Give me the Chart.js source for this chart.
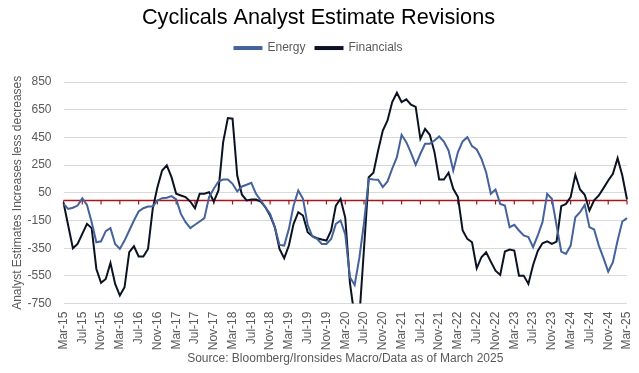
<!DOCTYPE html>
<html>
<head>
<meta charset="utf-8">
<script src="https://cdn.jsdelivr.net/npm/chart.js@4.4.1/dist/chart.umd.min.js"></script>
<style>
html,body{margin:0;padding:0;background:#fff;}
#wrap{width:639px;height:373px;position:relative;}
</style>
</head>
<body>
<div id="wrap"><canvas id="c"></canvas></div>
<script>
const categories = [
"Mar-15","Apr-15","May-15","Jun-15","Jul-15","Aug-15","Sep-15","Oct-15","Nov-15","Dec-15","Jan-16","Feb-16",
"Mar-16","Apr-16","May-16","Jun-16","Jul-16","Aug-16","Sep-16","Oct-16","Nov-16","Dec-16","Jan-17","Feb-17",
"Mar-17","Apr-17","May-17","Jun-17","Jul-17","Aug-17","Sep-17","Oct-17","Nov-17","Dec-17","Jan-18","Feb-18",
"Mar-18","Apr-18","May-18","Jun-18","Jul-18","Aug-18","Sep-18","Oct-18","Nov-18","Dec-18","Jan-19","Feb-19",
"Mar-19","Apr-19","May-19","Jun-19","Jul-19","Aug-19","Sep-19","Oct-19","Nov-19","Dec-19","Jan-20","Feb-20",
"Mar-20","Apr-20","May-20","Jun-20","Jul-20","Aug-20","Sep-20","Oct-20","Nov-20","Dec-20","Jan-21","Feb-21",
"Mar-21","Apr-21","May-21","Jun-21","Jul-21","Aug-21","Sep-21","Oct-21","Nov-21","Dec-21","Jan-22","Feb-22",
"Mar-22","Apr-22","May-22","Jun-22","Jul-22","Aug-22","Sep-22","Oct-22","Nov-22","Dec-22","Jan-23","Feb-23",
"Mar-23","Apr-23","May-23","Jun-23","Jul-23","Aug-23","Sep-23","Oct-23","Nov-23","Dec-23","Jan-24","Feb-24",
"Mar-24","Apr-24","May-24","Jun-24","Jul-24","Aug-24","Sep-24","Oct-24","Nov-24","Dec-24","Jan-25","Feb-25",
"Mar-25"];

const energy = [
-30,-66,-58,-42,10,-37,-162,-307,-300,-227,-205,-319,
-355,-295,-222,-150,-85,-61,-49,-49,-5,11,14,26,
2,-102,-162,-205,-181,-157,-133,19,79,132,146,146,
115,60,96,108,122,43,-5,-54,-102,-198,-326,-331,
-210,-42,67,7,-181,-266,-283,-319,-319,-283,-174,-150,
-250,-560,-615,-420,-165,151,146,144,91,132,224,308,
469,416,339,252,332,404,404,428,457,420,356,211,
344,421,452,387,363,296,199,43,74,-30,-42,-198,
-181,-222,-258,-270,-343,-258,-162,43,7,-186,-374,-391,
-331,-126,-90,-37,-198,-215,-331,-422,-519,-451,-295,-157,
-133];

const financials = [
-20,-186,-350,-319,-247,-174,-205,-500,-600,-572,-456,-608,
-692,-632,-379,-336,-410,-410,-355,-66,90,211,248,163,
43,31,19,-13,-61,43,43,55,-13,67,416,590,
585,175,36,-5,2,2,-13,-54,-114,-198,-355,-422,
-331,-174,-90,-114,-234,-263,-278,-287,-295,-222,-42,7,
-130,-600,-850,-850,-350,163,195,356,500,573,705,773,
705,725,686,670,440,512,469,344,146,146,195,79,
19,-222,-283,-307,-495,-415,-379,-447,-512,-543,-374,-360,
-367,-548,-548,-608,-471,-370,-314,-300,-319,-302,-46,-30,
19,180,74,36,-78,-5,31,84,139,187,300,175,
2];

const yTicks = [-750,-550,-350,-150,50,250,450,650,850];

const FONT = "'Liberation Sans', Arial, sans-serif";
const GREY = '#595959';

const zeroLine = {
  id: 'zeroLine',
  beforeDatasetsDraw(chart) {
    const {ctx, chartArea, scales} = chart;
    const yy = Math.round(scales.y.getPixelForValue(0)) + 0.5;
    ctx.save();
    ctx.strokeStyle = '#a8141b';
    ctx.lineWidth = 1.5;
    ctx.beginPath();
    ctx.moveTo(chartArea.left, yy);
    ctx.lineTo(chartArea.right, yy);
    ctx.stroke();
    ctx.lineWidth = 1.2;
    ctx.beginPath();
    for (let i = 0; i < categories.length; i += 4) {
      const px = scales.x.getPixelForValue(i);
      ctx.moveTo(px, yy);
      ctx.lineTo(px, yy + 4);
    }
    ctx.stroke();
    ctx.restore();
  }
};

new Chart(document.getElementById('c'), {
  type: 'line',
  data: {
    labels: categories,
    datasets: [
      {label: 'Energy', data: energy, borderColor: '#44629b', backgroundColor: '#44629b',
       borderWidth: 2, pointRadius: 0, tension: 0},
      {label: 'Financials', data: financials, borderColor: '#0b1222', backgroundColor: '#0b1222',
       borderWidth: 2, pointRadius: 0, tension: 0}
    ]
  },
  options: {
    responsive: true,
    maintainAspectRatio: false,
    animation: false,
    layout: {padding: {left: 10, right: 12, top: 0, bottom: 0}},
    plugins: {
      title: {display: true, text: 'Cyclicals Analyst Estimate Revisions', color: '#000',
              font: {family: FONT, size: 21.7, weight: 'normal'}, padding: {top: 5, bottom: 1}},
      subtitle: {display: true, position: 'bottom', fullSize: false,
                 text: 'Source: Bloomberg/Ironsides Macro/Data as of March 2025', color: GREY,
                 font: {family: FONT, size: 12, weight: 'normal'}, padding: {top: 1, bottom: 7}},
      legend: {display: true, position: 'top',
               labels: {color: GREY, font: {family: FONT, size: 12}, boxWidth: 27, boxHeight: 2, padding: 10}},
      tooltip: {enabled: false}
    },
    scales: {
      x: {
        type: 'category',
        offset: false,
        grid: {display: false, drawTicks: false},
        border: {display: false},
        ticks: {
          autoSkip: false, maxRotation: 90, minRotation: 90, padding: 8,
          color: GREY, font: {family: FONT, size: 12},
          callback: function(v, i) { return i % 4 === 0 ? categories[i] : null; }
        },
        afterFit: s => { s.height = 47; s.paddingLeft = 0; s.paddingRight = 0; }
      },
      x2: {
        type: 'category', position: 'top', display: true,
        grid: {display: false, drawTicks: false}, border: {display: false},
        ticks: {display: false},
        afterFit: s => { s.height = 18; s.paddingLeft = 0; s.paddingRight = 0; }
      },
      y: {
        min: -750, max: 850,
        afterBuildTicks: s => { s.ticks = yTicks.map(v => ({value: v})); },
        grid: {color: '#d9d9d9', lineWidth: 1, drawTicks: false},
        border: {display: false},
        ticks: {color: GREY, font: {family: FONT, size: 12}, padding: 12},
        title: {display: true, text: 'Analyst Estimates Increases less decreases', color: GREY,
                font: {family: FONT, size: 12}, padding: {top: 0, bottom: 0}},
        afterFit: s => { s.width = 53.5; }
      }
    }
  },
  plugins: [zeroLine]
});
</script>
</body>
</html>
